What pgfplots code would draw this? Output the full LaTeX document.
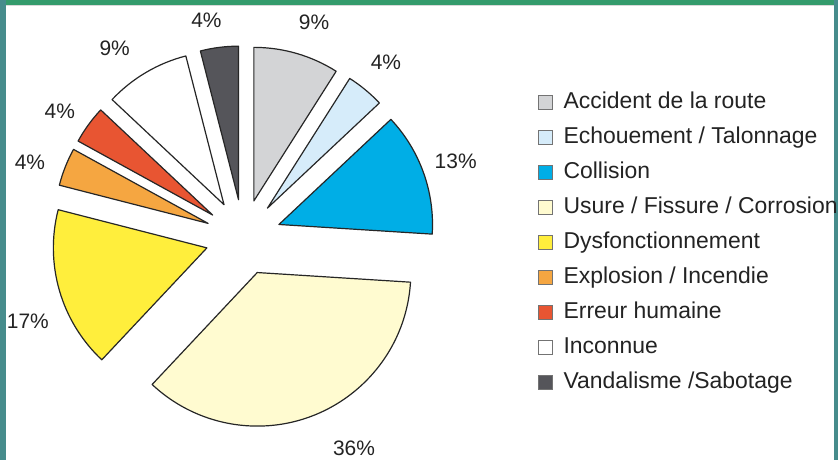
\documentclass[border=0pt]{standalone}
\usepackage{pgfplots}
\usepackage{pgfplotstable}
\pgfplotsset{compat=1.18}
\usepackage{fontspec}
\setmainfont{Liberation Sans}
\definecolor{cAcc}{RGB}{211,212,214}
\definecolor{cEch}{RGB}{214,236,250}
\definecolor{cCol}{RGB}{0,174,230}
\definecolor{cUsu}{RGB}{255,251,208}
\definecolor{cDys}{RGB}{255,238,60}
\definecolor{cExp}{RGB}{245,166,65}
\definecolor{cErr}{RGB}{232,85,50}
\definecolor{cInc}{RGB}{255,255,255}
\definecolor{cVan}{RGB}{85,85,90}
\definecolor{cGreen}{RGB}{52,155,108}
\definecolor{cStrip}{RGB}{70,140,140}
\definecolor{cTxt}{RGB}{35,35,35}
\pgfplotstableread{
pct col
9 cAcc
4 cEch
13 cCol
36 cUsu
17 cDys
4 cExp
4 cErr
9 cInc
4 cVan
}\pietable
\newcommand\pieslice[3]{%
  \filldraw[fill=#3, draw=black!85, line width=0.6pt, line join=round]
   (axis cs:{244+38*cos(90-3.6*(#1+#2/2))},{223+38*sin(90-3.6*(#1+#2/2))})
   -- +({90-3.6*#1}:77pt)
   arc[start angle={90-3.6*#1}, end angle={90-3.6*(#1+#2)}, radius=77pt]
   -- cycle;}
\begin{document}
\begin{tikzpicture}
\begin{axis}[
  hide axis, scale only axis,
  x=0.5pt, y=0.5pt,
  xmin=0, xmax=840, ymin=0, ymax=461,
  clip=false,
  legend cell align=left,
  legend style={at={(axis cs:539,372)}, anchor=north west, draw=none, fill=none,
    font=\fontsize{11.5}{14}\selectfont, text=cTxt, inner sep=0pt, row sep=4.15pt,
    nodes={text height=8.6pt, text depth=2.4pt, inner sep=1.2pt},
    /tikz/every odd column/.append style={column sep=4pt}},
  legend image code/.code={\draw[#1, draw=black!55, line width=0.5pt] (0pt,-3.6pt) rectangle (7.2pt,3.6pt);},
]
\fill[white] (axis cs:0,0) rectangle (axis cs:840,461);
\fill[cStrip] (axis cs:0,0) rectangle (axis cs:6,461);
\fill[cStrip] (axis cs:836,0) rectangle (axis cs:840,461);
\fill[cGreen] (axis cs:6,461) rectangle (axis cs:836,456);
\fill[black!15] (axis cs:6,456) rectangle (axis cs:836,454.5);
\def\cum{0}
\pgfplotsforeachungrouped \i in {0,...,8}{%
  \pgfplotstablegetelem{\i}{pct}\of\pietable \let\p\pgfplotsretval
  \pgfplotstablegetelem{\i}{col}\of\pietable \let\c\pgfplotsretval
  \edef\temp{\noexpand\pieslice{\cum}{\p}{\c}}\temp
  \pgfmathsetmacro\cum{\cum+\p}%
}
\addlegendimage{fill=cAcc}
\addlegendimage{fill=cEch}
\addlegendimage{fill=cCol}
\addlegendimage{fill=cUsu}
\addlegendimage{fill=cDys}
\addlegendimage{fill=cExp}
\addlegendimage{fill=cErr}
\addlegendimage{fill=cInc}
\addlegendimage{fill=cVan}
\legend{Accident de la route, Echouement / Talonnage, Collision, Usure / Fissure / Corrosion, Dysfonctionnement, Explosion / Incendie, Erreur humaine, Inconnue, Vandalisme /Sabotage}
\begin{scope}[every node/.style={font=\fontsize{10.5}{12.6}\selectfont, text=cTxt}]
\node at (axis cs:315,439) {9\%};
\node at (axis cs:387,399) {4\%};
\node at (axis cs:457,299) {13\%};
\node at (axis cs:355,11) {36\%};
\node at (axis cs:28,139) {17\%};
\node at (axis cs:30,298) {4\%};
\node at (axis cs:60,349) {4\%};
\node at (axis cs:115,413) {9\%};
\node at (axis cs:207,441) {4\%};
\end{scope}
\end{axis}
\end{tikzpicture}
\end{document}
